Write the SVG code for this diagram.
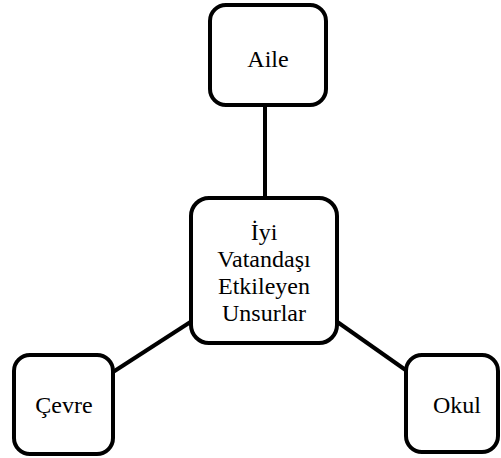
<svg xmlns="http://www.w3.org/2000/svg" width="501" height="458" viewBox="0 0 501 458">
<style>
.box{fill:#fff;stroke:#000;stroke-width:4}
.ln{stroke:#000;stroke-width:4;fill:none}
text{font-family:'Liberation Serif','Times New Roman',serif;font-size:24px;fill:#000;text-anchor:middle}
</style>
<rect width="501" height="458" fill="#fff"/>
<g id="connectors">
<line class="ln" x1="265" y1="105" x2="265" y2="199"/>
<line class="ln" x1="192" y1="321" x2="113" y2="372"/>
<line class="ln" x1="336" y1="321" x2="407" y2="371"/>
</g>
<g id="aile">
<rect class="box" x="210" y="5" width="116" height="100" rx="16"/>
<text x="268" y="67">Aile</text>
</g>
<g id="center">
<rect class="box" x="191" y="198" width="146" height="145" rx="18"/>
<text x="264" y="240">İyi</text>
<text x="264" y="267">Vatandaşı</text>
<text x="264" y="294">Etkileyen</text>
<text x="264" y="321">Unsurlar</text>
</g>
<g id="cevre">
<rect class="box" x="14" y="355" width="99" height="99" rx="16"/>
<text x="64" y="413">Çevre</text>
</g>
<g id="okul">
<rect class="box" x="406" y="355" width="92" height="97" rx="16"/>
<text x="457" y="413">Okul</text>
</g>
</svg>
